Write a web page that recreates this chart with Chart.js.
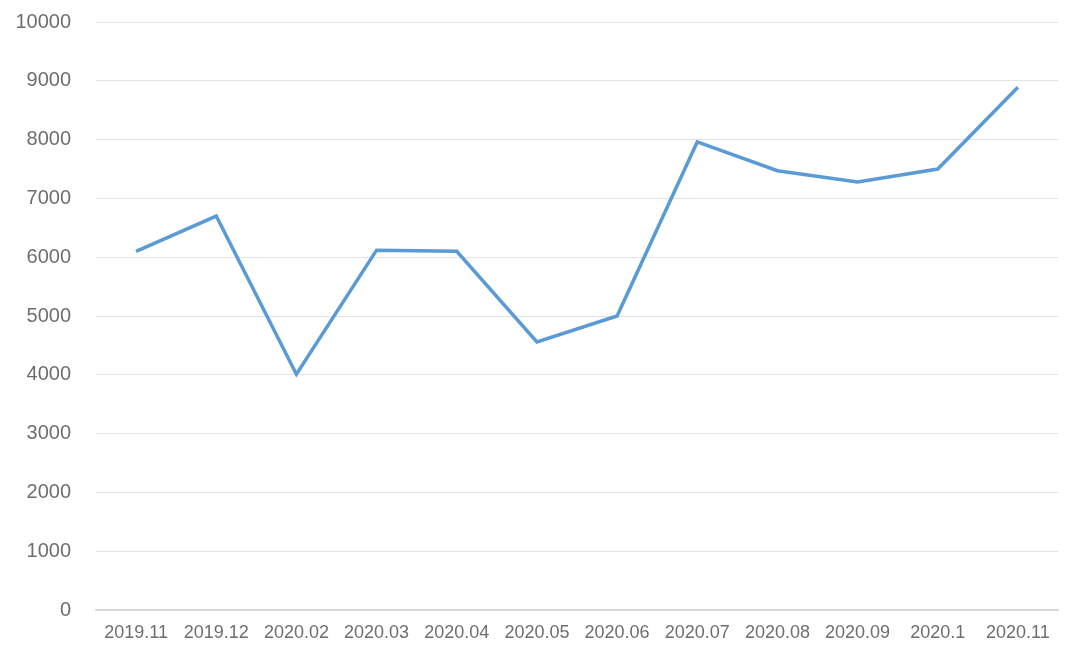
<!DOCTYPE html>
<html>
<head>
<meta charset="utf-8">
<script src="https://cdn.jsdelivr.net/npm/chart.js@4/dist/chart.umd.min.js"></script>
<style>
  html, body { margin: 0; padding: 0; background: #fff; }
  #wrap { width: 1080px; height: 655px; position: relative; }
</style>
</head>
<body>
<div id="wrap"><canvas id="chart"></canvas></div>
<script>
const months = ['2019.11', '2019.12', '2020.02', '2020.03', '2020.04', '2020.05',
                '2020.06', '2020.07', '2020.08', '2020.09', '2020.1', '2020.11'];
const values = [6100, 6700, 4010, 6120, 6100, 4560, 5000, 7960, 7470, 7280, 7500, 8890];
const yTicks = [0, 1000, 2000, 3000, 4000, 5000, 6000, 7000, 8000, 9000, 10000];

const textColor = '#6e6e6e';
const fontFamily = '"Liberation Sans", "DejaVu Sans", sans-serif';

new Chart(document.getElementById('chart'), {
  type: 'line',
  data: {
    labels: months,
    datasets: [{
      data: values,
      borderColor: '#5b9bd5',
      borderWidth: 3.5,
      pointRadius: 0,
      tension: 0,
      fill: false
    }]
  },
  options: {
    responsive: true,
    maintainAspectRatio: false,
    animation: false,
    layout: { padding: { top: 22, right: 22, left: 0, bottom: 0 } },
    plugins: { legend: { display: false }, tooltip: { enabled: false } },
    scales: {
      x: {
        offset: true,
        grid: { display: false, drawTicks: false },
        border: { display: true, color: '#d4d4d4', width: 1.5 },
        ticks: { color: textColor, padding: 12, maxRotation: 0, autoSkip: false,
                 font: { family: fontFamily, size: 18 } },
        afterFit: s => { s.height = 45; }
      },
      y: {
        min: 0,
        max: 10000,
        afterBuildTicks: s => { s.ticks = yTicks.map(v => ({ value: v })); },
        grid: { color: '#e3e3e3', lineWidth: 1, drawTicks: false },
        border: { display: false },
        ticks: { color: textColor, padding: 25,
                 font: { family: fontFamily, size: 20 },
                 callback: v => String(v) },
        afterFit: s => { s.width = 96; s.paddingTop = 0; s.paddingBottom = 0; }
      }
    }
  }
});
</script>
</body>
</html>
